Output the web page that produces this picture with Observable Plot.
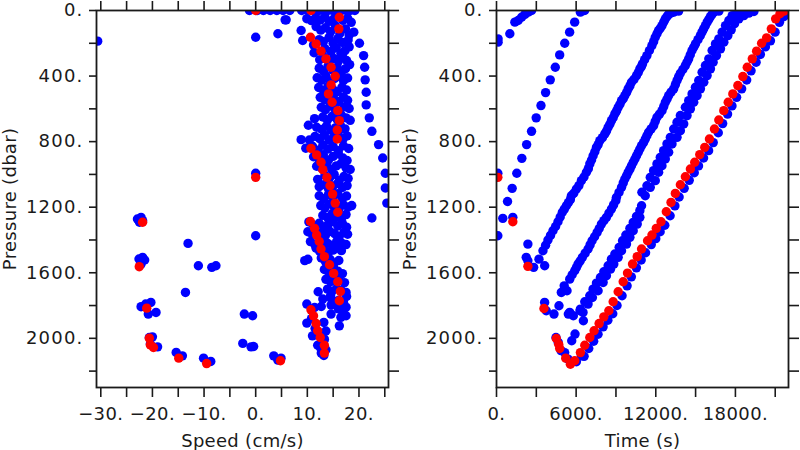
<!DOCTYPE html>
<html><head><meta charset="utf-8">
<script src="https://cdn.jsdelivr.net/npm/d3@7"></script>
<script src="https://cdn.jsdelivr.net/npm/@observablehq/plot@0.6"></script>
<style>
body{margin:0;background:#fff;}
#wrap{display:flex;width:800px;height:450px;overflow:hidden;}
svg text{fill:#1a1a1a;font-family:'DejaVu Sans',sans-serif;}
svg g[aria-label="x-axis tick label"] text{font-size:18px;letter-spacing:0.4px;}
svg g[aria-label="y-axis tick label"] text{font-size:18px;letter-spacing:1.2px;}
svg g[aria-label$="axis label"] text{font-size:18px;letter-spacing:0.3px;}
</style></head><body><div id="wrap"></div><script>
// ---- axis ticks / labels ----
const pressureTicks = [0,200,400,600,800,1000,1200,1400,1600,1800,2000,2200];
const pressureLabels = [0,400,800,1200,1600,2000];
const speedTicks = [-30,-25,-20,-15,-10,-5,0,5,10,15,20,25];
const speedLabels = [-30,-20,-10,0,10,20];
const timeTicks = [0,3000,6000,9000,12000,15000,18000,21000];
const timeLabels = [0,6000,12000,18000];
const speedDomain = [-30.83, 25.72];
const timeDomain = [0, 22000];
const pressureDomain = [0, 2300];

// ---- left panel: [speed cm/s, pressure dbar] ----
const speedBlue = [
[-1.2,0],[0.3,0],[1.5,0],[2.8,0],[4.1,0],[5.3,0],[6.6,0],[8.9,0],[10.0,0],[11.2,0],[12.3,0],[13.2,0],[14.0,0],[14.9,0],[15.8,0],[16.6,0],[17.5,0],[18.3,0],[19.2,0],
[5.7,57],[9.9,50],[10.8,62],[11.6,45],[12.5,58],[13.4,40],[14.2,66],[15.1,52],[16.0,30],[16.9,60],[17.8,48],[18.5,72],
[8.8,122],[11.7,98],[12.6,120],[13.5,105],[14.5,130],[15.4,92],[16.3,140],[17.4,112],[19.0,132],[18.1,150],
[9.1,183],[11.2,210],[12.3,178],[13.1,190],[14.2,165],[15.0,200],[15.9,172],[16.8,195],[17.9,180],[20.1,200],
[11.3,258],[13.4,232],[14.6,250],[15.6,228],[16.5,262],[17.3,245],[18.1,222],[20.9,275],
[12.4,300],[13.3,285],[14.2,318],[15.1,292],[16.0,310],[16.8,280],[17.6,305],[18.2,330],
[12.3,352],[13.1,370],[14.0,340],[14.9,362],[15.8,348],[16.6,375],[17.4,355],[21.1,346],
[11.9,410],[12.8,425],[13.6,398],[14.5,432],[15.3,415],[16.2,402],[17.0,428],[17.8,412],[21.2,423],
[12.2,470],[13.1,488],[14.0,462],[14.9,480],[15.8,495],[16.7,468],[17.6,485],[21.4,499],
[12.5,530],[13.4,545],[14.3,520],[15.2,540],[16.1,555],[17.0,528],[17.8,548],
[12.7,590],[13.5,605],[14.4,582],[15.3,600],[16.2,615],[17.2,588],[18.1,598],[21.4,576],
[11.4,660],[13.0,650],[13.9,668],[14.8,645],[15.7,662],[16.6,640],[17.5,655],[18.3,670],[22.0,655],
[10.2,700],[11.8,712],[12.8,725],[13.7,705],[14.6,730],[15.5,715],[16.4,700],[17.3,722],[22.5,737],
[8.8,788],[10.4,790],[11.5,768],[12.4,782],[13.3,760],[14.2,790],[15.1,772],[16.0,758],[16.9,785],[17.7,765],[23.8,818],
[9.7,840],[11.0,828],[12.0,852],[13.0,822],[14.0,845],[15.0,830],[16.0,855],[17.0,825],[18.0,842],
[11.2,892],[12.2,905],[13.1,880],[14.1,912],[15.0,890],[16.0,875],[16.9,900],[17.7,915],[24.6,900],
[11.8,950],[12.8,962],[13.7,940],[14.7,968],[15.6,948],[16.5,935],[17.5,960],[18.3,970],
[12.0,1030],[13.4,1005],[14.3,1022],[15.2,1000],[16.2,1035],[17.1,1012],[17.9,1025],[25.1,993],
[12.3,1075],[13.2,1062],[14.1,1088],[15.0,1070],[15.9,1055],[16.8,1080],[17.7,1068],[25.1,1083],
[12.3,1130],[13.2,1148],[14.1,1122],[15.0,1140],[15.9,1118],[16.8,1145],[17.6,1132],
[12.6,1190],[13.4,1205],[14.3,1180],[15.2,1198],[16.1,1212],[17.0,1185],[17.9,1200],[18.6,1190],[25.4,1175],
[13.0,1250],[13.9,1262],[14.8,1240],[15.7,1258],[16.6,1270],[17.5,1245],[22.5,1266],
[10.3,1290],[11.2,1310],[12.3,1298],[13.2,1320],[14.1,1302],[15.0,1288],[15.9,1315],[16.8,1300],[17.6,1322],
[10.1,1350],[11.0,1368],[12.6,1355],[13.5,1372],[14.4,1348],[15.3,1362],[16.2,1378],[17.1,1352],[17.8,1365],
[10.6,1410],[11.4,1425],[13.0,1402],[13.9,1420],[14.8,1432],[15.7,1408],[16.6,1418],[17.5,1428],
[11.7,1450],[12.4,1470],[13.2,1458],[14.1,1475],[15.0,1462],[15.7,1448],[16.6,1465],
[9.5,1526],[10.1,1518],[12.7,1510],[13.5,1532],[14.4,1518],[15.2,1540],[16.1,1525],
[13.3,1580],[14.2,1598],[15.1,1572],[15.9,1590],[16.8,1605],
[13.6,1640],[14.5,1655],[15.4,1632],[16.2,1648],[17.2,1660],
[12.1,1716],[13.9,1700],[14.8,1712],[15.7,1695],[16.6,1708],[17.5,1720],[14.5,1740],
[13.0,1760],[14.6,1757],[15.2,1775],[16.1,1768],[17.0,1780],[17.6,1745],
[9.9,1791],[11.4,1812],[12.7,1806],[14.6,1797],[14.6,1852],[16.0,1820],[16.9,1835],[17.5,1810],[17.5,1862],
[9.9,1907],[13.2,1903],[16.5,1872],[16.8,1862],[16.2,1924],[10.8,1880],
[11.0,1985],[13.6,1955],[13.3,2005],[11.5,1940],[12.3,1965],
[12.0,2042],[13.2,2015],[12.6,2060],[13.6,2070],
[12.7,2090],[13.2,2105],
[-30.6,187],[0,163],[4.3,142],[5.9,57],[0,993],[0,1374],
[-22.9,1272],[-22.2,1262],[-21.9,1282],[-22.5,1292],
[-22.6,1516],[-21.9,1506],[-21.5,1522],[-22.2,1547],
[-22.2,1807],[-21.3,1791],[-20.3,1781],[-20.8,1852],[-19.3,1842],
[-20.6,1995],[-20.0,1991],[-19.0,2052],[-20.4,2035],
[-15.4,2086],[-14.2,2107],[-10.1,2121],[-8.7,2141],
[-13.1,1421],[-11.1,1557],[-8.5,1567],[-7.7,1557],[-13.6,1720],
[-2.2,1852],[-0.6,1862],[-2.5,2031],[-0.9,2052],[-0.4,2050],
[3.5,2107],[4.3,2133],[4.9,2121]
];
const speedRed = [
[0,0],[10.7,0],[16.2,41],[16.1,112],[10.6,163],[11.7,204],[12.65,248],[13.6,295],[14.6,346],[15.4,401],[14.6,454],[14.1,509],[14.8,560],[15.9,611],[16.2,672],[15.8,729],[15.8,784],
[10.7,841],[11.8,881],[12.65,926],[13.0,971],[13.8,1018],[14.4,1069],[14.9,1120],[15.4,1175],[15.9,1231],
[10.6,1287],[11.4,1329],[11.8,1370],[12.3,1409],[12.65,1455],[13.3,1502],[14.3,1551],[15.1,1604],[15.9,1655],[16.4,1714],[16.2,1771],
[10.7,1826],[11.2,1863],[11.7,1910],[12.0,1954],[12.5,1995],[13.3,2042],[13.3,2090],
[0,1018],[-21.9,1292],[-22.55,1563],[-21.1,1816],[-20.6,1999],[-20.4,2040],[-19.8,2056],[-14.9,2121],[-9.5,2154],[4.8,2137]
];

// ---- right panel: [time s, pressure dbar] ----
const timeBlue = [
[120,173],[120,193],[1005,142],[1383,71],[1632,61],[1890,41],[2140,24],[2390,10],[2645,0],
[100,993],[100,1374],
[6640,0],[6320,10],[5890,71],[5510,132],[5140,200],[4760,271],[4430,346],[4050,423],[3700,501],[3350,580],[2990,655],[2640,737],[2270,818],[1910,902],[1530,993],[1180,1085],[830,1165],[475,1268],[1230,1262],
[2365,1425],[2240,1506],[2365,1527],[2800,1567],[3200,1517],[3630,1557],
[3500,1466],[3877,1400],[4255,1344],[4633,1289],[4960,1231],[5264,1191],[5564,1154],[5640,1130],[6020,1089],[6395,1038],[6775,987],[7030,936],[7280,886],[7530,835],[7785,794],[8160,753],[8410,712],[8660,672],[8915,631],[9170,590],[9420,550],[9670,519],[9920,478],[10170,438],[10550,397],[10800,356],[11000,326],[11330,275],[11710,214],[11960,163],[12210,122],[12470,92],[12720,51],[12970,24],[13350,10],[13720,4],
[3700,1432],[4070,1372],[4450,1318],[4800,1260],[5110,1212],[5420,1172],[5820,1115],[6210,1068],[6590,1016],[6920,965],[7160,912],[7410,862],[7660,818],[7980,776],[8290,735],[8540,694],[8790,654],[9050,612],[9300,572],[9550,538],[9800,500],[10050,460],[10360,420],[10680,378],[10920,342],[11160,300],[11520,244],[11840,190],[12090,142],[12340,108],[12600,70],[12850,36],[13150,15],
[3627,1781],[3750,1832],[4330,1852],[4708,1801],[4884,1720],[5313,1710],[5516,1639],[5894,1588],[6144,1547],[6470,1506],[6900,1455],[7200,1405],[7580,1354],[7905,1303],[8283,1262],[8660,1211],[8990,1160],[9040,1140],[9420,1079],[9670,1028],[9920,987],[10170,947],[10430,906],[10680,865],[10930,824],[11210,784],[11460,743],[11840,702],[12090,651],[12470,611],[12720,560],[12970,519],[13350,478],[13600,427],[13850,383],[14230,336],[14480,295],[14730,244],[14990,204],[15360,153],[15610,112],[15870,71],[16120,37],[16370,10],[16750,4],
[5100,1680],[5700,1612],[6020,1568],[6300,1528],[6680,1480],[7050,1430],[7390,1380],[7740,1330],[8090,1282],[8470,1236],[8820,1186],[9230,1110],[9550,1052],[9800,1008],[10050,968],[10300,926],[10550,886],[10800,845],[11080,806],[11330,764],[11650,722],[11960,676],[12280,632],[12600,586],[12850,540],[13150,498],[13480,452],[13720,405],[14040,360],[14350,316],[14600,270],[14860,224],[15180,178],[15480,132],[15740,92],[16000,54],[16250,22],
[5516,1842],[6320,1822],[6650,1777],[7028,1740],[7277,1700],[7530,1663],[7830,1629],[8086,1594],[8410,1557],[8660,1517],[8915,1486],[9242,1445],[9495,1405],[9746,1370],[10050,1329],[10300,1293],[10550,1256],[10800,1221],[10930,1191],
[10955,1109],[11335,1069],[11585,1018],[11835,977],[12090,936],[12340,896],[12590,855],[12845,814],[13097,774],[13350,723],[13600,682],[13853,641],[14230,590],[14480,550],[14735,509],[14986,468],[15237,427],[15490,377],[15742,336],[15994,295],[16246,244],[16498,204],[16750,173],[17002,132],[17254,92],[17506,61],[17758,31],[18136,16],[18514,6],
[6520,1842],[6900,1791],[7225,1751],[7655,1710],[8033,1659],[8283,1618],[8585,1578],[8840,1547],[9167,1506],[9420,1466],[9795,1425],[10050,1384],[10300,1344],[10603,1303],[10800,1262],
[11207,1130],[11585,1079],[11963,1038],[12215,987],[12467,947],[12719,906],[12971,865],[13224,814],[13602,774],[13853,733],[14105,692],[14357,641],[14609,600],[14860,560],[15112,519],[15364,478],[15616,438],[15868,397],[16120,356],[16321,315],[16573,275],[16876,234],[17128,193],[17430,153],[17683,118],[17934,81],[18261,51],[18639,31],[19017,16],[19395,6],
[5413,1852],[5790,1862],[6295,1832],[6546,1893],[5917,1974],[5667,2015],
[4480,1995],[4650,2025],[4860,2075],[5137,2087],[5390,2127],[5600,2150],[6018,2143],[6395,2107],
[6600,2110],[6950,2062],[7320,2018],[7650,1975],[8030,1930],[8390,1890],[8760,1850],[9080,1800],[9460,1740],[9840,1680],[10160,1625],[10540,1570],[10900,1522],[11230,1478],[11660,1428],[12000,1392],[12330,1350],[12680,1310],[13080,1252],[13440,1192],[13760,1138],[14140,1085],[14520,1036],[14900,990],[15220,948],[15600,900],[15980,855],[16330,806],[16710,746],[17040,690],[17410,632],[17740,582],[18090,530],[18470,478],[18850,424],[19180,368],[19560,316],[19880,268],[20260,222],[20640,185],[20990,132],[21320,72],[21640,38],[21950,10]
];
const timeRed = [
[100,1018],[1230,1289],[2365,1561],[3575,1818],[4505,2001],[4686,2036],[4761,2062],[5214,2121],[5566,2158],[5894,2137],
[6320,2087],[6650,2042],[7028,1995],[7353,1954],[7731,1910],[8086,1869],[8464,1832],[8789,1777],[9167,1716],[9545,1655],[9870,1602],[10248,1547],[10603,1502],[10928,1455],[11382,1405],[11713,1370],[12039,1329],[12394,1289],[12794,1228],[13149,1171],[13474,1116],[13853,1063],[14231,1014],[14609,967],[14936,926],[15314,879],[15691,835],[16044,784],[16422,723],[16749,668],[17125,611],[17457,560],[17805,509],[18183,458],[18561,403],[18893,346],[19271,295],[19596,248],[19974,200],[20352,167],[20706,112],[21032,51],[21357,20],[21659,4]
];

const fmt = d => (d < 0 ? "\u2212" : "") + Math.abs(d) + ".";
const ink = "#1a1a1a";

function panel({xDomain, xTicks, xLabels, xLabel, blue, red}) {
  return Plot.plot({
    width: 400, height: 450,
    marginLeft: 96, marginRight: 12, marginTop: 10, marginBottom: 63,
    style: {fontFamily: "'DejaVu Sans', sans-serif", fontSize: "18px", background: "white", color: ink},
    x: {domain: xDomain},
    y: {domain: pressureDomain, reverse: true},
    marks: [
      Plot.dot(blue, {x: d => d[0], y: d => d[1], r: 4.7, fill: "#0000ff", clip: true}),
      Plot.dot(red, {x: d => d[0], y: d => d[1], r: 4.7, fill: "#ff0000", clip: true}),
      Plot.axisX({anchor: "bottom", ticks: xTicks, tickSize: 10, tickPadding: 10, strokeWidth: 1.6, stroke: ink, fontSize: 18,
        tickFormat: d => xLabels.includes(d) ? fmt(d) : "", label: xLabel, labelAnchor: "center", labelArrow: "none", labelOffset: 59}),
      Plot.axisX({anchor: "top", ticks: xTicks, tickSize: 10, strokeWidth: 1.6, stroke: ink, tickFormat: () => "", label: null}),
      Plot.axisY({anchor: "left", ticks: pressureTicks, tickSize: 7, tickPadding: 6, strokeWidth: 1.6, stroke: ink, fontSize: 18,
        tickFormat: d => pressureLabels.includes(d) ? fmt(d) : "", label: "Pressure (dbar)", labelAnchor: "center", labelArrow: "none", labelOffset: 93}),
      Plot.axisY({anchor: "right", ticks: pressureTicks, tickSize: 10, strokeWidth: 1.6, stroke: ink, tickFormat: () => "", label: null}),
      Plot.frame({stroke: ink, strokeWidth: 1.8})
    ]
  });
}

const wrap = document.getElementById("wrap");
wrap.append(panel({xDomain: speedDomain, xTicks: speedTicks, xLabels: speedLabels, xLabel: "Speed (cm/s)", blue: speedBlue, red: speedRed}));
wrap.append(panel({xDomain: timeDomain, xTicks: timeTicks, xLabels: timeLabels, xLabel: "Time (s)", blue: timeBlue, red: timeRed}));
</script></body></html>
